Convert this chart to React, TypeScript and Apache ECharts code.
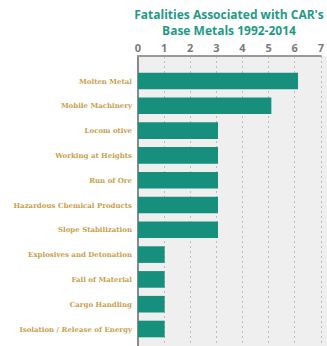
import React, { useEffect, useRef } from "react";
import * as echarts from "echarts";

const categories = [
  "Molten Metal",
  "Mobile Machinery",
  "Locom otive",
  "Working at Heights",
  "Run of Ore",
  "Hazardous Chemical Products",
  "Slope Stabilization",
  "Explosives and Detonation",
  "Fall of Material",
  "Cargo Handling",
  "Isolation / Release of Energy",
];
const fatalities = [6, 5, 3, 3, 3, 3, 3, 1, 1, 1, 1];
const titleLines = ["Fatalities Associated with CAR's", "Base Metals 1992-2014"];
const xMin = 0;
const xMax = 7;
const xInterval = 1;

export default function App() {
  const ref = useRef<HTMLDivElement>(null);
  useEffect(() => {
    if (!ref.current) return;
    const chart = echarts.init(ref.current, null, { renderer: "svg" });
    const teal = "#16907d";
    chart.setOption({
      animation: false,
      graphic: [
        {
          type: "rect",
          z: -10,
          shape: { x: 138, y: 56, width: 189, height: 290 },
          style: { fill: "#efefef" },
          silent: true,
        },
        ...titleLines.map((t, i) => ({
          type: "text",
          x: 229,
          y: 14 + i * 16,
          style: {
            text: t,
            fill: "#1f9a86",
            font: "bold 12px 'Open Sans'",
            textAlign: "center",
            textVerticalAlign: "middle",
          },
        })),
      ],
      grid: [
        { left: 138, right: 2.3, top: 56, bottom: 0, containLabel: false },
        { left: 138, right: 2.3, top: 68.6, bottom: 4.6, containLabel: false },
      ],
      xAxis: [
        {
          gridIndex: 0,
          type: "value",
          position: "top",
          min: xMin,
          max: xMax,
          interval: xInterval,
          axisLine: { show: true, onZero: false, lineStyle: { color: "#9a9a9a", width: 2 } },
          axisTick: { show: false },
          axisLabel: {
            color: "#7a7a7a",
            fontFamily: "'Open Sans'",
            fontWeight: "bold",
            fontSize: 11,
            margin: 3,
            showMaxLabel: true,
          },
          splitLine: {
            show: true,
            lineStyle: { color: "#bdbdbd", width: 1, type: [2, 3] },
          },
        },
        {
          gridIndex: 1,
          type: "value",
          min: xMin,
          max: xMax,
          interval: xInterval,
          show: false,
        },
      ],
      yAxis: [
        {
          gridIndex: 0,
          type: "value",
          axisLine: { show: true, onZero: false, lineStyle: { color: "#8a8a8a", width: 2 } },
          axisTick: { show: false },
          axisLabel: { show: false },
          splitLine: { show: false },
        },
        {
          gridIndex: 1,
          type: "category",
          inverse: true,
          data: categories,
          axisLine: { show: false },
          axisTick: { show: false },
          axisLabel: {
            color: "#c9a04c",
            fontFamily: "'DejaVu Serif'",
            fontWeight: "bold",
            fontSize: 7,
            margin: 6,
          },
          splitLine: { show: false },
        },
      ],
      series: [
        {
          type: "bar",
          xAxisIndex: 1,
          yAxisIndex: 1,
          data: fatalities,
          barWidth: "67%",
          itemStyle: { color: teal },
        },
      ],
    });
    return () => chart.dispose();
  }, []);
  return (
    <div
      ref={ref}
      style={{ position: "fixed", left: 0, top: 0, width: 327, height: 346, background: "#fff" }}
    />
  );
}
